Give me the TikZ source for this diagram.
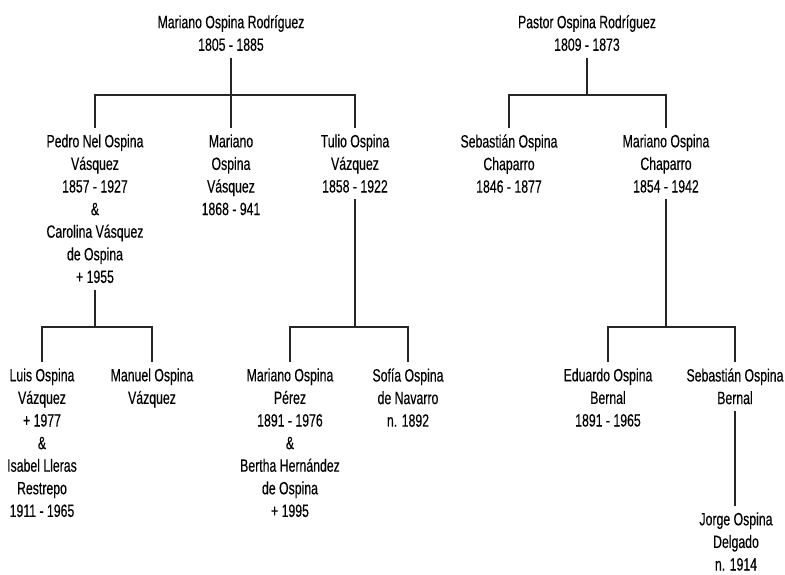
\documentclass[tikz,border=0pt]{standalone}
\usepackage{fontspec}
\setmainfont{Liberation Sans}[FakeStretch=0.69,FakeBold=0.3]
\usepackage{tikz}
\usetikzlibrary{calc}

\tikzset{
  person/.style={align=center, inner sep=0pt, anchor=north,
    font=\fontsize{17.8}{22.6}\selectfont,
    execute at begin node=\strut, execute at end node=\strut},
  tie/.style={line width=1.2pt, black!85, shorten >=6pt}
}

\begin{document}
\begin{tikzpicture}[x=1pt,y=-1pt]
\useasboundingbox (0,0) rectangle (785,574);
% bar levels
\coordinate (lvlA) at (0,95);
\coordinate (lvlB) at (0,327);

\node[person] (mor) at (231,14.9) {Mariano Ospina Rodríguez\\1805 - 1885};
\node[person] (por) at (587,14.9) {Pastor Ospina Rodríguez\\1809 - 1873};

\node[person] (pnov) at (95,134.2) {Pedro Nel Ospina\\Vásquez\\1857 - 1927\\\&\\Carolina Vásquez\\de Ospina\\+ 1955};
\node[person] (mov) at (231,134.2) {Mariano\\Ospina\\Vásquez\\1868 - 941};
\node[person] (tov) at (355,134.2) {Tulio Ospina\\Vázquez\\1858 - 1922};
\node[person] (soc) at (509,134.2) {Sebastián Ospina\\Chaparro\\1846 - 1877};
\node[person] (moc) at (666,134.2) {Mariano Ospina\\Chaparro\\1854 - 1942};

\node[person] (lov) at (42,368.2) {Luis Ospina\\Vázquez\\+ 1977\\\&\\Isabel Lleras\\Restrepo\\1911 - 1965};
\node[person] (mav) at (152,368.2) {Manuel Ospina\\Vázquez};
\node[person] (mop) at (290,368.2) {Mariano Ospina\\Pérez\\1891 - 1976\\\&\\Bertha Hernández\\de Ospina\\+ 1995};
\node[person] (son) at (408,368.2) {Sofía Ospina\\de Navarro\\n. 1892};
\node[person] (eob) at (608,368.2) {Eduardo Ospina\\Bernal\\1891 - 1965};
\node[person] (sob) at (735,368.2) {Sebastián Ospina\\Bernal};

\node[person] (jod) at (736,512.2) {Jorge Ospina\\Delgado\\n. 1914};

\foreach \c in {pnov,mov,tov}
  \draw[tie] (mor.south) -- (mor.south |- lvlA) -| (\c.north);
\foreach \c in {soc,moc}
  \draw[tie] (por.south) -- (por.south |- lvlA) -| (\c.north);
\foreach \c in {lov,mav}
  \draw[tie] (pnov.south) -- (pnov.south |- lvlB) -| (\c.north);
\foreach \c in {mop,son}
  \draw[tie] (tov.south) -- (tov.south |- lvlB) -| (\c.north);
\foreach \c in {eob,sob}
  \draw[tie] (moc.south) -- (moc.south |- lvlB) -| (\c.north);
\draw[tie] (sob.south) -- (sob.south |- jod.north);
\end{tikzpicture}
\end{document}
